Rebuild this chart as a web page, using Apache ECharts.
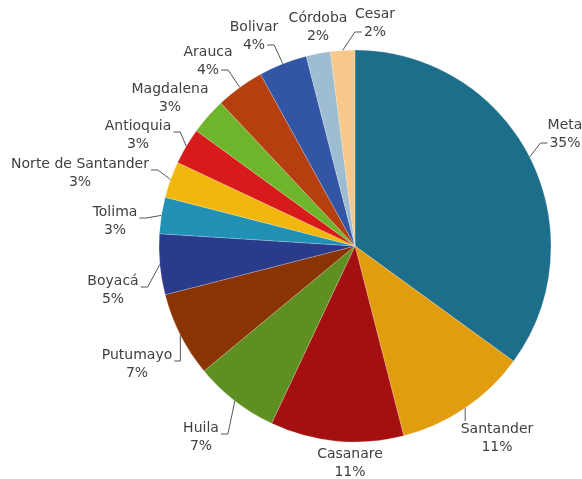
<!DOCTYPE html>
<html>
<head>
<meta charset="utf-8">
<script src="https://cdn.jsdelivr.net/npm/echarts@6/dist/echarts.min.js"></script>
<style>
  html, body { margin: 0; padding: 0; background: #ffffff; }
  #chart { width: 582px; height: 479px; }
</style>
</head>
<body>
<div id="chart"></div>
<script>
// Participación por departamento (porcentaje)
const departamentos = ['Meta', 'Santander', 'Casanare', 'Huila', 'Putumayo', 'Boyacá', 'Tolima',
  'Norte de Santander', 'Antioquia', 'Magdalena', 'Arauca', 'Bolivar', 'Córdoba', 'Cesar'];
const porcentajes = [35, 11, 11, 7, 7, 5, 3, 3, 3, 3, 4, 4, 2, 2];

// Colores de cada porción, en el mismo orden
const colores = ['#1c6e8b', '#e19d0e', '#a3100f', '#5e9021', '#8b3403', '#2b3b8b', '#2190b5',
  '#f2b70d', '#d71a1a', '#6eb52c', '#b53f0e', '#3355a6', '#9ebdd0', '#f7c88a'];

// Centro (px) de cada etiqueta alrededor del pastel
const centrosEtiquetas = [
  [565, 134], [497, 438], [350, 463], [201, 437], [137, 364], [113, 290], [115, 221],
  [80, 173], [138, 135], [170, 98], [208, 61], [254, 36], [318, 27], [375, 23]
];

const FUENTE = 'DejaVu Sans, sans-serif';
const TAM = 14;
const INTERLINEA = 18;

const chart = echarts.init(document.getElementById('chart'), null, { renderer: 'canvas' });

const datos = departamentos.map((nombre, i) => ({
  name: nombre,
  value: porcentajes[i],
  itemStyle: { color: colores[i] }
}));

// Medidor de ancho de texto para ubicar el extremo de la línea guía
const ctxMedida = document.createElement('canvas').getContext('2d');
ctxMedida.font = TAM + 'px ' + FUENTE;
const anchoTexto = t => ctxMedida.measureText(t).width;

// Línea guía: desde el borde de la porción (ángulo medio) hasta el costado de la etiqueta
function lineaGuia(params) {
  const i = params.dataIndex;
  const lay = chart.getModel().getSeriesByIndex(0).getData().getItemLayout(i);
  const mid = (lay.startAngle + lay.endAngle) / 2;
  const p0 = [lay.cx + lay.r * Math.cos(mid), lay.cy + lay.r * Math.sin(mid)];
  const [ex, ey] = centrosEtiquetas[i];
  const w = params.labelRect.width;
  const h = params.labelRect.height;
  const izq = ex - w / 2, der = ex + w / 2, arriba = ey - h / 2, abajo = ey + h / 2;
  // Si el borde queda por debajo del bloque, la línea llega al renglón del porcentaje
  const segundo = p0[1] > abajo - 4;
  const semi = segundo ? anchoTexto(porcentajes[i] + '%') / 2 : w / 2;
  const yUnion = segundo ? ey + INTERLINEA / 2 : ey - 3;
  let p1, p2;
  if (p0[0] > der) {
    p2 = [ex + semi + 2, yUnion];
    p1 = [Math.min(p2[0] + 7, p0[0]), p2[1]];
  } else if (p0[0] < izq) {
    p2 = [ex - semi - 2, yUnion];
    p1 = [Math.max(p2[0] - 7, p0[0]), p2[1]];
  } else {
    p2 = [p0[0], p0[1] < arriba ? arriba - 1 : abajo + 1];
    p1 = p2;
  }
  const largo = Math.hypot(p2[0] - p0[0], p2[1] - p0[1]);
  const puntos = largo < 10 ? [p0, p0, p0] : [p0, p1, p2];
  return {
    x: ex,
    y: ey,
    align: 'center',
    verticalAlign: 'middle',
    labelLinePoints: puntos
  };
}

chart.setOption({
  backgroundColor: '#ffffff',
  animation: false,
  series: [{
    type: 'pie',
    center: [355, 246],
    radius: 196,
    startAngle: 90,
    clockwise: true,
    avoidLabelOverlap: false,
    data: datos,
    itemStyle: {
      borderColor: 'rgba(255,255,255,0.35)',
      borderWidth: 0.6
    },
    label: {
      show: true,
      position: 'outside',
      formatter: p => '{t|' + p.name + '}\n{t|' + p.value + '%}',
      rich: {
        t: {
          align: 'center',
          fontFamily: FUENTE,
          fontSize: TAM,
          lineHeight: INTERLINEA,
          color: '#404040'
        }
      }
    },
    labelLine: {
      show: true,
      smooth: false,
      length: 10,
      length2: 8,
      lineStyle: { color: '#555555', width: 1 }
    },
    labelLayout: lineaGuia
  }]
});
</script>
</body>
</html>
